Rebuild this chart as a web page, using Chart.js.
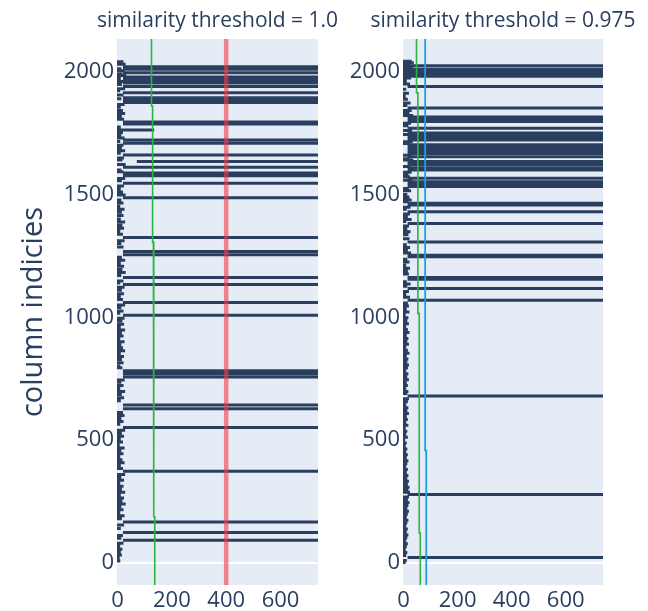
<!DOCTYPE html>
<html>
<head>
<meta charset="utf-8">
<script src="https://cdn.jsdelivr.net/npm/chart.js@4.4.0/dist/chart.umd.min.js"></script>
<style>
body { margin: 0; background: #fff; }
#wrap { position: relative; width: 648px; height: 611px; }
canvas { position: absolute; top: 0; }
</style>
</head>
<body>
<div id="wrap">
  <canvas id="left" width="345" height="611" style="left:0"></canvas>
  <canvas id="right" width="318" height="611" style="left:330px"></canvas>
</div>
<script>
// tick labels
var xTicks = [0, 200, 400, 600];
var yTicks = [0, 500, 1000, 1500, 2000];
var xRange = [-2, 738];
var yRange = [-90, 2133];

// subplot titles
var titles = ["similarity threshold = 1.0", "similarity threshold = 0.975"];

// long rows: column index, start, end
var lineEnd = 738;
var leftRowsY = [2020, 2010, 1996, 1978, 1966, 1954, 1940, 1914, 1894, 1884, 1874, 1795, 1787,
    1722, 1709, 1661, 1611, 1587, 1576, 1546, 1487, 1325, 1268, 1255, 1162, 1133, 1060, 1008,
    782, 770, 757, 643, 628, 551, 373, 166, 124, 92];
var leftRowsStart = 20;
var leftLateRows = [[1634, 71]];   // [column, start]

var rightRowsY = [2024, 2010, 2001, 1992, 1981, 1940, 1852, 1815, 1806, 1797, 1770, 1750, 1742,
    1732, 1722, 1702, 1695, 1688, 1681, 1674, 1667, 1654, 1634, 1627, 1620, 1607, 1600, 1566,
    1552, 1545, 1538, 1532, 1464, 1457, 1430, 1382, 1307, 1253, 1246, 1162, 1155, 1117, 1069,
    679, 278, 22];
var rightRowsStart = 15;

// short marks near the left edge: [column, length]
var leftMarks = [[2040, 22], [2030, 30], [2012, 14], [2004, 26], [1990, 18], [1984, 32], [1972, 12],
    [1960, 24], [1948, 16], [1930, 28], [1922, 10], [1905, 22], [1890, 14], [1866, 26], [1855, 12],
    [1842, 20], [1830, 28], [1818, 16], [1806, 24], [1775, 12], [1763, 135], [1752, 20], [1740, 14],
    [1730, 26], [1716, 10], [1700, 22], [1690, 16], [1678, 28], [1668, 12], [1648, 24], [1640, 18],
    [1622, 30], [1600, 14], [1593, 22], [1565, 28], [1556, 16], [1535, 24], [1522, 12], [1510, 20],
    [1498, 30], [1478, 14], [1465, 22], [1452, 10], [1440, 26], [1428, 16], [1414, 22], [1400, 12],
    [1388, 28], [1375, 18], [1362, 24], [1350, 10], [1338, 20], [1312, 26], [1300, 14], [1286, 22],
    [1244, 16], [1232, 28], [1220, 12], [1208, 24], [1195, 18], [1182, 30], [1170, 14], [1148, 22],
    [1140, 10], [1122, 26], [1110, 16], [1096, 24], [1084, 12], [1072, 20], [1050, 28], [1040, 14],
    [1026, 22], [1016, 10], [996, 26], [985, 18], [972, 24], [960, 12], [948, 28], [936, 16],
    [924, 22], [912, 10], [900, 26], [888, 14], [876, 20], [864, 28], [852, 12], [840, 24],
    [828, 16], [815, 22], [802, 10], [795, 18], [745, 26], [735, 14], [722, 22], [710, 10],
    [698, 28], [686, 16], [672, 24], [660, 12], [612, 20], [600, 26], [588, 14], [576, 22],
    [564, 10], [540, 28], [528, 16], [516, 24], [504, 12], [492, 20], [480, 8], [468, 26],
    [456, 14], [444, 22], [432, 10], [420, 18], [408, 26], [396, 12], [384, 20], [360, 28],
    [348, 14], [336, 24], [324, 10], [312, 22], [300, 16], [288, 28], [276, 12], [264, 24],
    [252, 18], [240, 30], [228, 14], [216, 22], [204, 10], [192, 26], [180, 16], [154, 24],
    [140, 12], [112, 20], [100, 14], [80, 22], [68, 10], [56, 18], [44, 12], [32, 16], [20, 8], [8, 10]];

var rightMarks = [[2042, 30], [2036, 38], [2028, 26], [2018, 34], [2006, 22], [1998, 30], [1986, 18],
    [1974, 28], [1962, 12], [1950, 24], [1928, 10], [1912, 20], [1900, 8], [1888, 16], [1872, 26],
    [1862, 14], [1842, 30], [1830, 22], [1822, 36], [1790, 28], [1780, 18], [1760, 32], [1744, 20],
    [1715, 34], [1708, 24], [1660, 30], [1645, 22], [1640, 36], [1614, 26], [1590, 30], [1580, 18],
    [1572, 24], [1558, 34], [1524, 20], [1515, 28], [1500, 14], [1490, 22], [1478, 30], [1470, 18],
    [1448, 26], [1440, 12], [1420, 24], [1410, 16], [1398, 30], [1390, 10], [1372, 20], [1360, 14],
    [1348, 26], [1336, 18], [1320, 22], [1295, 12], [1284, 24], [1272, 16], [1262, 28], [1236, 14],
    [1225, 22], [1212, 10], [1200, 24], [1188, 16], [1176, 20], [1145, 12], [1135, 26], [1126, 14],
    [1105, 20], [1094, 10], [1082, 24], [1058, 16], [1046, 20], [1034, 12], [1022, 22], [1010, 8],
    [998, 18], [986, 14], [974, 20], [962, 10], [950, 16], [938, 22], [926, 12], [914, 18],
    [902, 14], [890, 20], [878, 10], [866, 16], [854, 22], [842, 12], [830, 18], [818, 14],
    [806, 20], [794, 16], [782, 10], [770, 18], [758, 14], [746, 20], [734, 12], [722, 16],
    [710, 10], [698, 18], [690, 14], [668, 20], [656, 16], [644, 10], [632, 18], [620, 14],
    [608, 20], [596, 12], [584, 16], [572, 10], [560, 18], [548, 8], [536, 14], [524, 10],
    [512, 16], [500, 6], [488, 12], [476, 8], [464, 14], [452, 10], [440, 16], [428, 12],
    [416, 18], [404, 14], [392, 10], [380, 16], [368, 12], [356, 18], [344, 14], [332, 20],
    [320, 16], [308, 22], [296, 18], [288, 24], [268, 20], [258, 16], [246, 22], [234, 18],
    [222, 14], [210, 20], [198, 16], [186, 12], [174, 18], [162, 14], [150, 10], [138, 16],
    [126, 12], [114, 18], [102, 14], [90, 10], [78, 16], [66, 12], [54, 8], [42, 14], [30, 10],
    [10, 12], [2, 8]];
var markStart = -5;

// threshold curves: [column where the step starts, x]
var leftGreen = [[2133, 125], [1860, 129], [1306, 132], [747, 134], [188, 137]];
var leftRed = 400;
var rightGreen = [[2133, 48], [1914, 53], [1016, 58], [122, 62]];
var rightBlue = [[2133, 80], [457, 84]];

var ink = "#2a3f5f";
var font = "'Open Sans', 'DejaVu Sans', sans-serif";

// build one path with gaps between row segments
function rows(list) {
    var pts = [];
    for (var i = 0; i < list.length; i++) {
        var r = list[i];
        pts.push({x: r[1], y: r[0]});
        pts.push({x: r[2], y: r[0]});
        pts.push({x: r[2], y: null});
    }
    return pts;
}

function steps(list) {
    var pts = [];
    for (var i = 0; i < list.length; i++) {
        var bottom = i + 1 < list.length ? list[i + 1][0] : yRange[0];
        pts.push({x: list[i][1], y: list[i][0]});
        pts.push({x: list[i][1], y: bottom});
    }
    return pts;
}

function seg(data, color, width, order) {
    return {
        data: data, showLine: true, borderColor: color, borderWidth: width,
        pointRadius: 0, spanGaps: false, clip: 0, order: order,
        borderCapStyle: "butt", tension: 0
    };
}

var plotBg = {
    id: "plotBg",
    beforeDraw: function(chart) {
        var a = chart.chartArea;
        chart.ctx.save();
        chart.ctx.fillStyle = "#e5ecf6";
        chart.ctx.fillRect(a.left, a.top, a.right - a.left, a.bottom - a.top);
        chart.ctx.restore();
    }
};

// subplot title centred over the plot area, not squeezed to its width
var subTitle = {
    id: "subTitle",
    afterDraw: function(chart, args, opts) {
        var a = chart.chartArea;
        var ctx = chart.ctx;
        ctx.save();
        ctx.fillStyle = ink;
        ctx.font = "21px " + font;
        ctx.textAlign = "center";
        ctx.textBaseline = "middle";
        ctx.fillText(opts.text, (a.left + a.right) / 2, 21);
        ctx.restore();
    }
};

function plain(v) { return String(v); }

function makeChart(id, title, datasets, axisWidth, rightPad, showTitle) {
    return new Chart(document.getElementById(id), {
        type: "scatter",
        data: {datasets: datasets},
        plugins: [plotBg, subTitle],
        options: {
            responsive: false,
            animation: false,
            layout: {padding: {top: 39, right: rightPad, bottom: 0, left: 0}},
            plugins: {
                legend: {display: false},
                tooltip: {enabled: false},
                subTitle: {text: title}
            },
            scales: {
                x: {
                    type: "linear", min: xRange[0], max: xRange[1],
                    afterBuildTicks: function(s) { s.ticks = xTicks.map(function(v) { return {value: v}; }); },
                    afterFit: function(s) { s.height = 26; },
                    grid: {display: false, drawTicks: false},
                    border: {display: false},
                    ticks: {color: ink, font: {family: font, size: 22}, padding: 3, maxRotation: 0, callback: plain}
                },
                y: {
                    type: "linear", min: yRange[0], max: yRange[1],
                    afterBuildTicks: function(s) { s.ticks = yTicks.map(function(v) { return {value: v}; }); },
                    afterFit: function(s) { s.width = axisWidth; },
                    grid: {
                        drawTicks: false,
                        color: function(c) { return c.tick && c.tick.value === 0 ? "#ffffff" : "rgba(0,0,0,0)"; },
                        lineWidth: 2
                    },
                    border: {display: false},
                    title: {
                        display: showTitle, text: "column indicies", color: ink,
                        font: {family: font, size: 29, weight: "normal"},
                        padding: {top: 16, bottom: 0}
                    },
                    ticks: {color: ink, font: {family: font, size: 22}, padding: 3, callback: plain}
                }
            }
        }
    });
}

var leftLong = leftRowsY.map(function(y) { return [y, leftRowsStart, lineEnd]; })
    .concat(leftLateRows.map(function(r) { return [r[0], r[1], lineEnd]; }));
var rightLong = rightRowsY.map(function(y) { return [y, rightRowsStart, lineEnd]; });
var leftShort = leftMarks.map(function(m) { return [m[0], markStart, m[1]]; });
var rightShort = rightMarks.map(function(m) { return [m[0], markStart, m[1]]; });

makeChart("left", titles[0], [
    seg([{x: leftRed, y: yRange[0]}, {x: leftRed, y: yRange[1]}], "rgba(240,60,70,0.6)", 4.5, 0),
    seg(steps(leftGreen), "#2fb344", 1.6, 1),
    seg(rows(leftShort), ink, 3, 2),
    seg(rows(leftLong), ink, 3, 3)
], 117, 27, true);

makeChart("right", titles[1], [
    seg(steps(rightBlue), "#1f9fe0", 1.8, 0),
    seg(steps(rightGreen), "#2fb344", 1.6, 1),
    seg(rows(rightShort), ink, 3, 2),
    seg(rows(rightLong), ink, 3, 3)
], 73, 45, false);
</script>
</body>
</html>
